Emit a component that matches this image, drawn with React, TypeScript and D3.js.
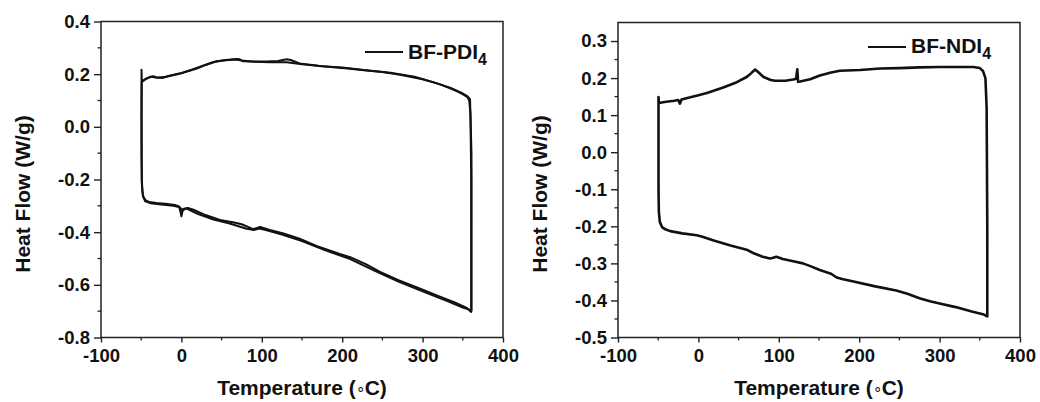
import React, { useEffect, useRef } from 'react';
import * as d3 from 'd3';

// BF-PDI4, two overlapping DSC cycles (upper branch left->right, then lower branch back)
const pdiTemp1 = [-49.3, -45, -40, -35, -30, -24, -15, -5, 0, 10, 20, 30, 44, 55, 69, 72, 77, 90, 106, 120, 131, 136, 147, 170, 189, 210, 230, 250, 272, 300, 320, 335, 345, 352, 356, 358, 359.5, 360.5, 360.5, 355, 340, 320, 297, 270, 247, 230, 210, 197, 168, 147, 127, 110, 98, 93, 89, 85, 75, 64, 48, 30, 15, 8, 2, 0, -1, -3, -8, -20, -31, -40, -44, -47, -48.5, -49.2, -49.6, -49.6, -49.3];
const pdiFlow1 = [0.173, 0.18, 0.188, 0.192, 0.187, 0.185, 0.193, 0.2, 0.203, 0.213, 0.222, 0.235, 0.249, 0.254, 0.258, 0.257, 0.249, 0.248, 0.248, 0.25, 0.257, 0.254, 0.241, 0.232, 0.226, 0.221, 0.214, 0.208, 0.198, 0.181, 0.163, 0.145, 0.132, 0.12, 0.112, 0.1, 0.05, -0.2, -0.703, -0.688, -0.667, -0.643, -0.615, -0.582, -0.551, -0.522, -0.495, -0.483, -0.452, -0.425, -0.405, -0.392, -0.38, -0.385, -0.389, -0.383, -0.37, -0.362, -0.354, -0.335, -0.315, -0.308, -0.312, -0.34, -0.325, -0.302, -0.297, -0.292, -0.289, -0.285, -0.28, -0.268, -0.245, -0.2, -0.1, 0.217, 0.175];

const pdiTemp2 = [-49.3, -44, -38, -30, -20, -8, 0, 12, 25, 40, 55, 68, 75, 90, 110, 131, 150, 175, 200, 230, 260, 290, 315, 335, 348, 355, 359, 360.8, 360.8, 350, 330, 300, 270, 240, 210, 180, 150, 125, 105, 97, 90, 80, 60, 40, 20, 6, 1, -2, -10, -25, -38, -45, -48, -49.3, -49.6, -49.3];
const pdiFlow2 = [0.17, 0.183, 0.19, 0.186, 0.19, 0.199, 0.205, 0.216, 0.23, 0.246, 0.253, 0.256, 0.252, 0.247, 0.245, 0.245, 0.238, 0.23, 0.225, 0.215, 0.205, 0.19, 0.168, 0.148, 0.13, 0.118, 0.105, -0.1, -0.697, -0.686, -0.661, -0.625, -0.588, -0.546, -0.502, -0.47, -0.434, -0.409, -0.392, -0.386, -0.392, -0.386, -0.367, -0.352, -0.33, -0.31, -0.318, -0.305, -0.3, -0.295, -0.29, -0.283, -0.262, -0.21, 0.05, 0.17];

// BF-NDI4, single cycle
const ndiTemp = [-49.5, -40, -30, -25, -23, -21, -10, 0, 10.6, 30, 47.8, 60, 65, 70.5, 75, 81, 90, 95.4, 108, 118, 121.5, 123, 124, 126.5, 139, 151, 165, 176, 201, 226, 250, 275, 300, 342, 350, 354, 357, 358.5, 359.3, 359.3, 355, 340, 320, 300, 288, 275, 260, 246, 220, 193, 180, 172, 165, 151, 140, 130, 118, 105, 97, 93, 89, 80, 68, 60, 40, 19, 5, -2, -20, -35, -42, -45.3, -48, -49.2, -49.6, -49.6, -49.3];
const ndiFlow = [0.133, 0.136, 0.139, 0.141, 0.131, 0.142, 0.148, 0.154, 0.16, 0.174, 0.189, 0.203, 0.212, 0.223, 0.215, 0.203, 0.195, 0.193, 0.193, 0.196, 0.198, 0.224, 0.19, 0.191, 0.197, 0.207, 0.215, 0.22, 0.222, 0.226, 0.227, 0.229, 0.23, 0.23, 0.227, 0.219, 0.2, 0.12, -0.2, -0.443, -0.438, -0.43, -0.418, -0.408, -0.402, -0.394, -0.382, -0.373, -0.362, -0.349, -0.343, -0.338, -0.328, -0.318, -0.308, -0.3, -0.294, -0.288, -0.282, -0.285, -0.287, -0.282, -0.272, -0.263, -0.252, -0.238, -0.228, -0.224, -0.219, -0.213, -0.207, -0.202, -0.188, -0.16, -0.1, 0.149, 0.135];

const xTicks = [-100, 0, 100, 200, 300, 400];
const xMinor = [-50, 50, 150, 250, 350];
const pdiYTicks = [-0.8, -0.6, -0.4, -0.2, 0.0, 0.2, 0.4];
const pdiYMinor = [-0.7, -0.5, -0.3, -0.1, 0.1, 0.3];
const ndiYTicks = [-0.5, -0.4, -0.3, -0.2, -0.1, 0.0, 0.1, 0.2, 0.3];
const ndiYMinor = [-0.45, -0.35, -0.25, -0.15, -0.05, 0.05, 0.15, 0.25];

const FONT = '"Liberation Sans", Arial, Helvetica, sans-serif';

const App = () => {
  const svgRef = useRef(null);

  useEffect(() => {
    const svg = d3.select(svgRef.current);
    svg.selectAll('*').remove();

    const panels = [
      {
        box: { left: 101, right: 503, top: 21.5, bottom: 337.5 },
        yDomain: [-0.8, 0.4],
        yTicks: pdiYTicks,
        yMinor: pdiYMinor,
        curves: [
          { t: pdiTemp1, f: pdiFlow1 },
          { t: pdiTemp2, f: pdiFlow2 },
        ],
        width: 2,
        name: 'BF-PDI',
        legend: { x: 365, y: 52, ty: 59 },
        yTitleX: 29.5,
      },
      {
        box: { left: 618, right: 1020, top: 22.5, bottom: 337.5 },
        yDomain: [-0.5, 0.35],
        yTicks: ndiYTicks,
        yMinor: ndiYMinor,
        curves: [{ t: ndiTemp, f: ndiFlow }],
        width: 2.6,
        name: 'BF-NDI',
        legend: { x: 868, y: 47, ty: 53 },
        yTitleX: 546.5,
      },
    ];

    panels.forEach((p) => {
      const { box } = p;
      const x = d3.scaleLinear().domain([-100, 400]).range([box.left, box.right]);
      const y = d3.scaleLinear().domain(p.yDomain).range([box.bottom, box.top]);
      const g = svg.append('g');

      // minor ticks
      g.selectAll('.xm')
        .data(xMinor)
        .enter()
        .append('line')
        .attr('x1', (d) => x(d))
        .attr('x2', (d) => x(d))
        .attr('y1', box.bottom)
        .attr('y2', box.bottom + 3)
        .attr('stroke', '#222')
        .attr('stroke-width', 1.3);
      g.selectAll('.ym')
        .data(p.yMinor)
        .enter()
        .append('line')
        .attr('x1', box.left - 3.5)
        .attr('x2', box.left)
        .attr('y1', (d) => y(d))
        .attr('y2', (d) => y(d))
        .attr('stroke', '#222')
        .attr('stroke-width', 1.3);

      // major axes
      const xAxis = g
        .append('g')
        .attr('transform', `translate(0, ${box.bottom})`)
        .call(
          d3.axisBottom(x).tickValues(xTicks).tickSize(5).tickSizeOuter(0).tickPadding(6.5)
            .tickFormat((d) => String(d))
        );
      const yAxis = g
        .append('g')
        .attr('transform', `translate(${box.left}, 0)`)
        .call(
          d3.axisLeft(y).tickValues(p.yTicks).tickSize(7).tickSizeOuter(0).tickPadding(4)
            .tickFormat((d) => (+d).toFixed(1))
        );
      [xAxis, yAxis].forEach((a) => {
        a.select('.domain').remove();
        a.selectAll('line').attr('stroke', '#222').attr('stroke-width', 1.4);
        a.selectAll('text')
          .attr('fill', '#111')
          .style('font-family', FONT)
          .style('font-size', '18.5px')
          .style('font-weight', 'bold');
      });

      // frame
      g.append('rect')
        .attr('x', box.left)
        .attr('y', box.top)
        .attr('width', box.right - box.left)
        .attr('height', box.bottom - box.top)
        .attr('fill', 'none')
        .attr('stroke', '#222')
        .attr('stroke-width', 1.5);

      // curves
      const line = d3
        .line()
        .x((d) => x(d[0]))
        .y((d) => y(d[1]))
        .curve(d3.curveLinear);
      p.curves.forEach((c) => {
        g.append('path')
          .datum(c.t.map((t, i) => [t, c.f[i]]))
          .attr('d', line)
          .attr('fill', 'none')
          .attr('stroke', '#111')
          .attr('stroke-width', p.width)
          .attr('stroke-linejoin', 'round');
      });

      // legend
      g.append('line')
        .attr('x1', p.legend.x)
        .attr('x2', p.legend.x + 38)
        .attr('y1', p.legend.y)
        .attr('y2', p.legend.y)
        .attr('stroke', '#111')
        .attr('stroke-width', 2);
      const lt = g
        .append('text')
        .attr('x', p.legend.x + 43)
        .attr('y', p.legend.ty)
        .attr('fill', '#111')
        .style('font-family', FONT)
        .style('font-size', '21px')
        .style('font-weight', 'bold');
      lt.append('tspan').text(p.name);
      lt.append('tspan').attr('dy', 6).style('font-size', '16px').text('4');

      // axis titles
      const xt = g
        .append('text')
        .attr('x', (box.left + box.right) / 2)
        .attr('y', 395)
        .attr('text-anchor', 'middle')
        .attr('fill', '#111')
        .style('font-family', FONT)
        .style('font-size', '21px')
        .style('font-weight', 'bold');
      xt.append('tspan').text('Temperature (');
      xt.append('tspan').style('font-weight', 'normal').style('font-size', '15px').attr('dy', -1).text('∘');
      xt.append('tspan').attr('dy', 1).text('C)');

      g.append('text')
        .attr('transform', `translate(${p.yTitleX}, 194) rotate(-90)`)
        .attr('text-anchor', 'middle')
        .attr('fill', '#111')
        .style('font-family', FONT)
        .style('font-size', '21px')
        .style('font-weight', 'bold')
        .text('Heat Flow (W/g)');
    });
  }, []);

  return (
    <svg
      ref={svgRef}
      width={1040}
      height={402}
      style={{ position: 'absolute', left: 0, top: 0, background: '#fff' }}
    ></svg>
  );
};

export default App;
